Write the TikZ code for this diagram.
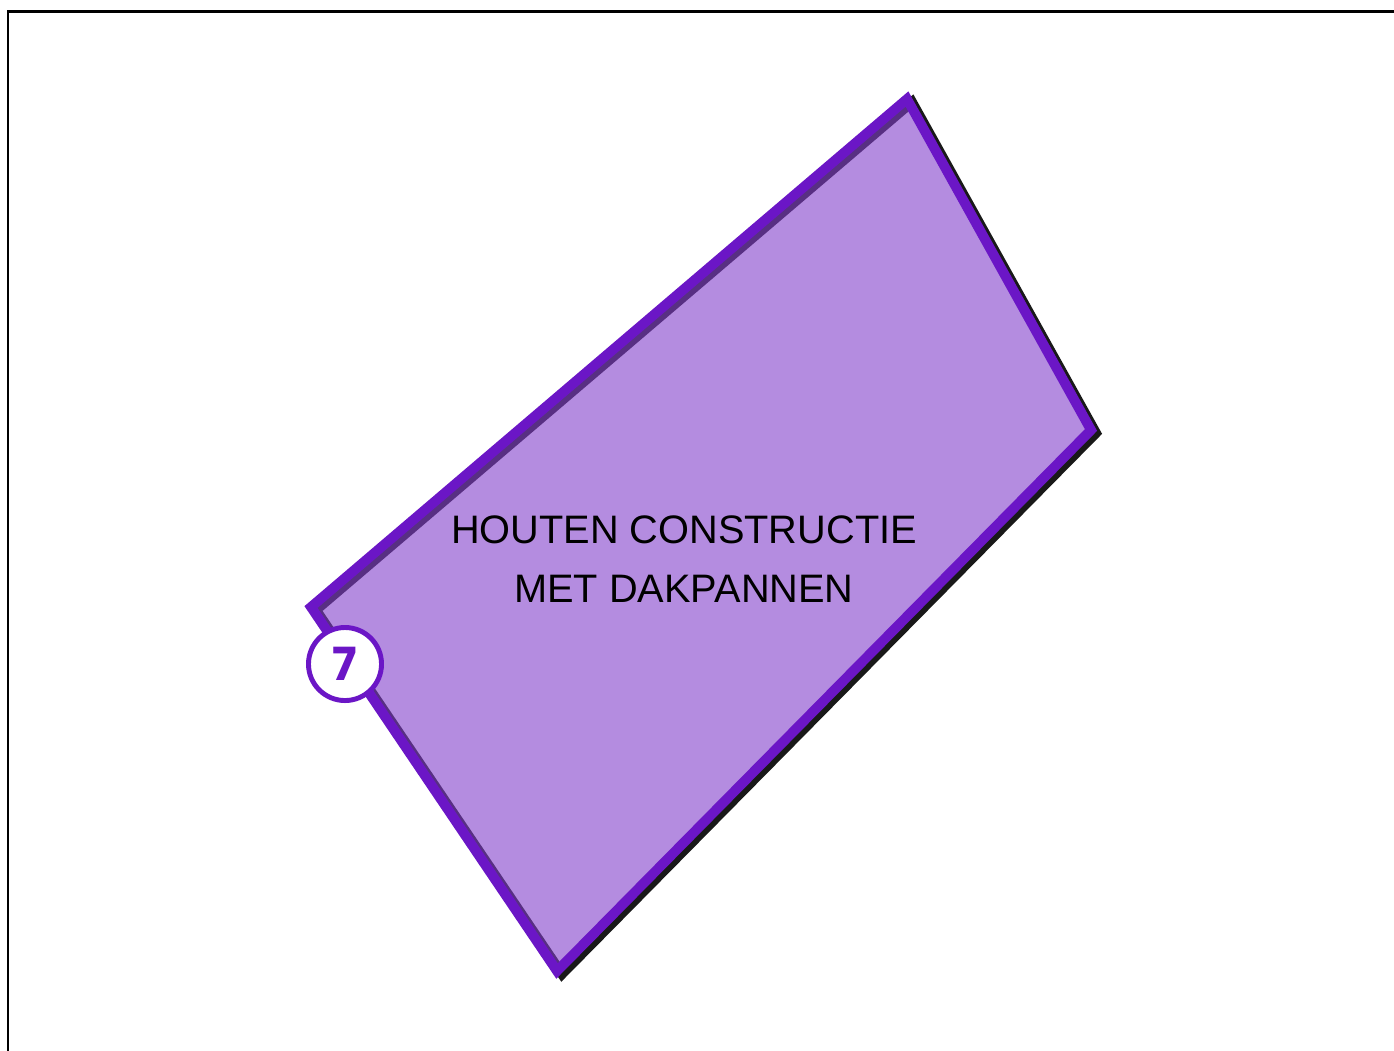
\documentclass[tikz,border=0pt]{standalone}
\usepackage{fontspec}
\setmainfont{Liberation Sans}
\newfontfamily\badgefont{Poppins}
\usetikzlibrary{positioning}
\definecolor{RoofPurple}{RGB}{107,22,198}
\definecolor{RoofFill}{RGB}{130,63,203}
\tikzset{
  frame/.style={draw=black,line width=0.85pt},
  roof/.style={draw=RoofPurple,line width=2.8pt,line join=miter,
    fill=RoofFill,fill opacity=0.6,draw opacity=1},
  roofshadow/.style={draw=black,line width=2.8pt,line join=miter,draw opacity=0.9},
  badge/.style={circle,draw=RoofPurple,line width=1.4pt,fill=white,
    minimum size=0.73cm,inner sep=0pt,text=RoofPurple,
    font=\badgefont\bfseries\fontsize{13}{15}\selectfont},
  roomlabel/.style={align=center,font=\fontsize{11.3}{16.6}\selectfont}
}
\begin{document}
\begin{tikzpicture}[x=0.01cm,y=-0.01cm]
  \useasboundingbox (0,0) rectangle (1394,1050);
  \draw[frame] (8,1060) -- (8,11) -- (1404,11);
  % corners of the roof outline
  \coordinate (n) at (907,99);
  \coordinate (e) at (1091,430);
  \coordinate (s) at (557,971);
  \coordinate (w) at (311,607);
  \draw[roofshadow] ([shift={(5,3)}]n) -- ([shift={(5,3)}]e)
    -- ([shift={(5,3)}]s) -- ([shift={(5,3)}]w) -- cycle;
  \draw[roof] (n) -- (e) -- (s) -- (w) -- cycle;
  \node[roomlabel] (label) at (684,559) {HOUTEN CONSTRUCTIE\\MET DAKPANNEN};
  \node[badge] (badge) at (345,664) {7};
\end{tikzpicture}
\end{document}
